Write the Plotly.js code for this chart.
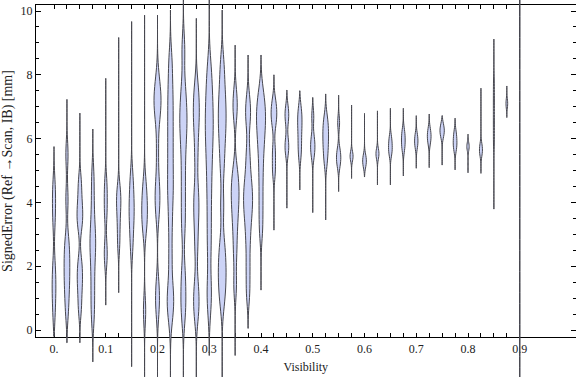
<!DOCTYPE html>
<html><head><meta charset="utf-8">
<script src="https://cdn.plot.ly/plotly-3.0.1.min.js"></script>
<style>html,body{margin:0;padding:0;background:#fff}#chart{width:576px;height:377px}</style>
</head><body><div id="chart"></div>
<script>
// ---- data ----
const visibility = [0, 0.025, 0.05, 0.075, 0.1, 0.125, 0.15, 0.175, 0.2, 0.225, 0.25, 0.275, 0.3, 0.325,
  0.35, 0.375, 0.4, 0.425, 0.45, 0.475, 0.5, 0.525, 0.55, 0.575, 0.6, 0.625, 0.65, 0.675, 0.7, 0.725,
  0.75, 0.775, 0.8, 0.825, 0.85, 0.875, 0.9];

// estimated observations (signed error, mm) per visibility bin
const errorSamples = [
  [4.5, 4.0, 3.4, 2.0, 1.5, 1.1, 0.5],
  [5.5, 4.1, 2.8, 2.4, 2.0, 1.6, 1.2, 0.6],
  [4.6, 4.0, 3.6, 3.3, 2.1, 1.7, 1.3, 0.7],
  [4.8, 4.0, 3.3, 2.9, 2.6, 2.2, 1.6, 1.0, 0.4],
  [4.6, 4.1, 3.6, 2.6, 2.2],
  [4.4, 4.1, 3.8, 3.3, 2.7],
  [4.8, 4.3, 3.9, 3.6, 3.2, 2.6],
  [4.5, 4.0, 3.6, 3.2, 0.6],
  [7.9, 7.5, 7.2, 7.2, 6.9, 6.5, 5.6, 4.7, 4.3, 4.0, 3.6, 1.4, 1.0, 0.6],
  [8.4, 7.6, 7.0, 6.4, 5.8, 5.2, 4.6, 4.1, 3.3, 2.3, 1.3, 0.9, 0.5],
  [8.8, 7.6, 7.0, 6.6, 6.2, 5.6, 4.8, 4.0, 3.2, 1.8, 1.1, 0.5],
  [7.6, 7.1, 6.7, 6.2, 5.4, 4.4, 3.9, 3.4, 2.6, 1.4, 0.9, 0.5],
  [8.2, 7.6, 7.1, 6.7, 6.3, 5.9, 5.4, 4.8, 4.1, 3.3, 2.5, 1.4, 0.8],
  [8.3, 7.6, 7.1, 6.7, 6.3, 5.8, 5.1, 3.9, 2.7, 2.2, 1.8, 1.4, 0.9],
  [7.3, 6.8, 5.0, 4.6, 4.3, 4.0, 3.6, 3.1, 2.4, 1.4],
  [7.1, 6.6, 5.5, 4.8, 4.4, 4.1, 3.8, 3.4, 2.8, 2.0, 1.2],
  [7.4, 7.0, 6.7, 6.4, 6.0, 5.5, 4.8, 4.0, 3.2],
  [7.1, 6.8, 6.5, 5.6, 5.0],
  [6.9, 6.6, 5.9, 5.6],
  [6.9, 6.6, 6.3, 5.9, 5.5],
  [6.7, 6.0, 5.75, 5.5],
  [6.6, 6.3, 6.0, 5.7, 5.3],
  [6.5, 5.6, 5.4, 5.2],
  [5.5, 5.4],
  [5.4, 5.2],
  [5.6, 5.45],
  [6.0, 5.75, 5.55],
  [6.2, 5.95, 5.7],
  [6.05, 5.8],
  [6.2, 5.95],
  [6.35, 6.15],
  [6.15, 5.9, 5.7],
  [5.8, 5.7],
  [5.75, 5.55],
  [7.8, 7.4, 7.0, 6.6, 6.2, 5.8],
  [7.1],
  [-1.2, 0.4, 2.1, 3.4, 5.0, 6.6, 7.9, 9.6, 11.1]
];
// kernel bandwidth per bin
const bandwidths = [0.45, 0.42, 0.35, 0.45, 0.35, 0.35, 0.42, 0.45, 0.45, 0.5, 0.5, 0.47, 0.55, 0.47,
  0.42, 0.42, 0.45, 0.3, 0.25, 0.28, 0.25, 0.3, 0.22, 0.15, 0.17, 0.15, 0.18, 0.2, 0.18, 0.2,
  0.18, 0.18, 0.12, 0.16, 0.3, 0.15, 1.0];
// observed minimum / maximum error per bin
const errorMin = [-0.2, -0.4, -0.4, -1.0, 0.78, 1.17, -1.15, -1.6, -1.6, -1.6, -1.6, -1.6, -0.8, -1.6,
  -0.8, 0.05, 1.25, 3.13, 3.82, 4.39, 3.68, 3.45, 4.34, 4.75, 4.8, 4.55, 4.55, 4.83, 5.07, 5.09,
  5.17, 5.02, 4.93, 4.91, 3.79, 6.66, -2.5];
const errorMax = [5.75, 7.23, 6.8, 6.3, 7.89, 9.17, 9.67, 9.87, 9.87, 10.03, 10.6, 9.77, 10.6, 10.03,
  8.93, 8.62, 8.62, 8.0, 7.52, 7.5, 7.29, 7.4, 7.36, 7.05, 6.79, 6.87, 6.95, 6.95, 6.72, 6.77,
  6.72, 6.64, 6.14, 7.58, 9.12, 7.65, 12.5];
// relative (count-weighted) peak density per bin, 0..1
const relDensity = [0.41, 0.63, 0.63, 0.63, 0.33, 0.48, 0.56, 0.63, 0.78, 0.72, 0.8, 0.66, 0.88, 0.86,
  0.86, 1.0, 1.0, 0.63, 0.41, 0.48, 0.48, 0.63, 0.48, 0.33, 0.41, 0.33, 0.41, 0.41, 0.37, 0.41,
  0.48, 0.41, 0.26, 0.33, 0.11, 0.19, 0.06];

const xLabelVals = [0, 0.1, 0.2, 0.3, 0.4, 0.5, 0.6, 0.7, 0.8, 0.9];
const xLabelText = ["0.", "0.1", "0.2", "0.3", "0.4", "0.5", "0.6", "0.7", "0.8", "0.9"];

// ---- layout / style ----
const W = 576, H = 377;
const frame = {left: 36, right: 575.5, top: 4.7, bottom: 337.3};
const xRange = [-0.0348, 1.0077];
const yRange = [-0.229, 10.198];
const maxViolinPx = 9;
const FONT = 'Liberation Serif, Times New Roman, serif';

const xDom = [frame.left / W, frame.right / W];
const yDom = [(H - frame.bottom) / H, (H - frame.top) / H];
const upp = (yRange[1] - yRange[0]) / (yDom[1] - yDom[0]);
const y2Range = [yRange[0] - yDom[0] * upp, yRange[1] + (1 - yDom[1]) * upp];
const xUnitsPerPx = (xRange[1] - xRange[0]) / (frame.right - frame.left);

const traces = [{type: 'scatter', x: [], y: [], xaxis: 'x', yaxis: 'y', showlegend: false, hoverinfo: 'skip'}];
visibility.forEach((v, i) => {
  traces.push({
    type: 'violin', x0: v, y: errorSamples[i], xaxis: 'x2', yaxis: 'y2',
    name: String(v), showlegend: false, hoverinfo: 'skip',
    bandwidth: bandwidths[i], spanmode: 'manual', span: [errorMin[i], errorMax[i]],
    width: relDensity[i] * maxViolinPx * xUnitsPerPx,
    points: false, box: {visible: false}, meanline: {visible: false},
    fillcolor: 'rgb(204,211,246)', line: {color: 'rgb(70,70,78)', width: 1}
  });
});

const tickText = visibility.map(v => {
  const k = xLabelVals.findIndex(l => Math.abs(l - v) < 1e-9);
  return k >= 0 ? xLabelText[k] : '';
});

const layout = {
  width: W, height: H, margin: {l: 0, r: 0, t: 0, b: 0},
  paper_bgcolor: '#fff', plot_bgcolor: 'rgba(0,0,0,0)',
  font: {family: FONT, size: 12, color: '#222'},
  showlegend: false, violinmode: 'overlay',
  xaxis: {
    domain: xDom, range: xRange, anchor: 'y', showgrid: false, zeroline: false,
    tickmode: 'array', tickvals: visibility, ticktext: tickText,
    ticks: 'inside', ticklen: 4, tickwidth: 1, tickcolor: '#000',
    showline: true, linecolor: '#000', linewidth: 1, mirror: 'ticks',
    tickfont: {family: FONT, size: 12, color: '#222'},
    title: {text: 'Visibility', font: {family: FONT, size: 12, color: '#222'}, standoff: 7},
    automargin: false
  },
  yaxis: {
    domain: yDom, range: yRange, anchor: 'x', showgrid: false, zeroline: false,
    tickmode: 'linear', tick0: 0, dtick: 2,
    ticks: 'inside', ticklen: 5, tickwidth: 1, tickcolor: '#000',
    minor: {dtick: 0.5, tick0: 0, ticks: 'inside', ticklen: 3, tickcolor: '#000', showgrid: false},
    showline: true, linecolor: '#000', linewidth: 1, mirror: 'ticks',
    tickfont: {family: FONT, size: 12, color: '#222'},
    title: {text: 'SignedError (Ref \u2192Scan, IB) [mm]', font: {family: FONT, size: 14, color: '#222'}, standoff: 5},
    automargin: false
  },
  xaxis2: {domain: xDom, range: xRange, anchor: 'y2', visible: false, fixedrange: true},
  yaxis2: {domain: [0, 1], range: y2Range, anchor: 'x2', visible: false, fixedrange: true}
};

Plotly.newPlot('chart', traces, layout, {staticPlot: true, displayModeBar: false});
</script>
</body></html>
